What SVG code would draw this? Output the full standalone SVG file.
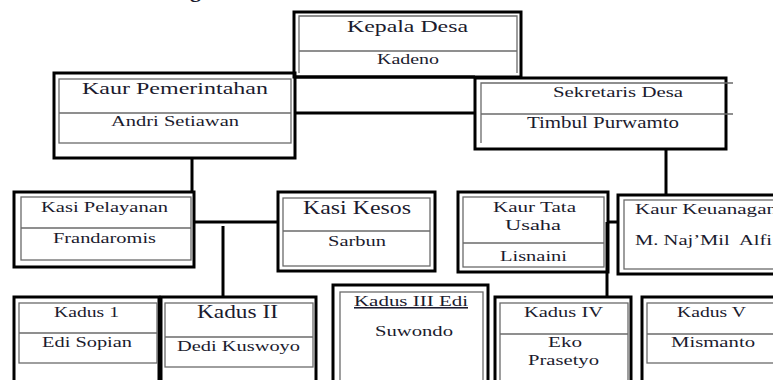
<svg xmlns="http://www.w3.org/2000/svg" width="773" height="380" viewBox="0 0 773 380">
<style>
.outer{fill:none;stroke:#000;stroke-width:3}
.inner{fill:none;stroke:#6a6a6a;stroke-width:1.3}
.conn{fill:none;stroke:#000;stroke-width:3}
.t{font-family:"Liberation Serif","Times New Roman",serif;fill:#1b1b2e;font-size:15.5px}
.b{font-size:18px}
.u{text-decoration:underline}
</style>
<rect width="773" height="380" fill="#fff"/>
<text class="t" x="190" y="-3" style="font-weight:bold;font-size:22px">g</text>
<g id="connectors">
<line class="conn" x1="295" y1="77" x2="475" y2="77"/>
<line class="conn" x1="295" y1="113" x2="475" y2="113"/>
<line class="conn" x1="192" y1="158" x2="192" y2="192"/>
<line class="conn" x1="194" y1="222" x2="278" y2="222"/>
<line class="conn" x1="223" y1="226" x2="223" y2="297"/>
<line class="conn" x1="666" y1="149" x2="666" y2="195"/>
<line class="conn" x1="608" y1="222" x2="618" y2="222"/>
<line class="conn" x1="607" y1="222" x2="607" y2="297"/>
</g>
<g id="kepala-desa">
<rect class="outer" x="294" y="12" width="227" height="65"/>
<polyline class="inner" points="299,73 299,16 517,16 517,73"/>
<line class="inner" x1="299" y1="51" x2="517" y2="51"/>
<text class="t" x="347" y="32" textLength="121" lengthAdjust="spacingAndGlyphs" style="font-size:17.5px">Kepala Desa</text>
<text class="t" x="377" y="64" textLength="62" lengthAdjust="spacingAndGlyphs">Kadeno</text>
</g>
<g id="kaur-pemerintahan">
<rect class="outer" x="54" y="73" width="241" height="85"/>
<rect class="inner" x="59" y="79" width="232" height="64"/>
<line class="inner" x1="59" y1="113" x2="291" y2="113"/>
<text class="t" x="82" y="94" textLength="186" lengthAdjust="spacingAndGlyphs" style="font-size:17.5px">Kaur Pemerintahan</text>
<text class="t" x="111" y="126" textLength="128" lengthAdjust="spacingAndGlyphs">Andri Setiawan</text>
</g>
<g id="sekretaris-desa">
<rect class="outer" x="475" y="78" width="251" height="71"/>
<polyline class="inner" points="481,143 481,83 733,83"/>
<line class="inner" x1="481" y1="114" x2="733" y2="114"/>
<text class="t" x="553" y="97" textLength="130" lengthAdjust="spacingAndGlyphs">Sekretaris Desa</text>
<text class="t" x="527" y="128" textLength="152" lengthAdjust="spacingAndGlyphs" style="font-size:16px">Timbul Purwamto</text>
</g>
<g id="kasi-pelayanan">
<rect class="outer" x="14" y="192" width="180" height="75"/>
<rect class="inner" x="21" y="197" width="170" height="63"/>
<line class="inner" x1="21" y1="228" x2="191" y2="228"/>
<text class="t" x="41" y="212" textLength="127" lengthAdjust="spacingAndGlyphs">Kasi Pelayanan</text>
<text class="t" x="53" y="243" textLength="103" lengthAdjust="spacingAndGlyphs">Frandaromis</text>
</g>
<g id="kasi-kesos">
<rect class="outer" x="278" y="192" width="157" height="79"/>
<rect class="inner" x="283" y="198" width="147" height="68"/>
<line class="inner" x1="283" y1="231" x2="430" y2="231"/>
<text class="t b" x="303" y="214" textLength="108" lengthAdjust="spacingAndGlyphs">Kasi Kesos</text>
<text class="t" x="328" y="246" textLength="58" lengthAdjust="spacingAndGlyphs">Sarbun</text>
</g>
<g id="kaur-tata-usaha">
<rect class="outer" x="458" y="192" width="150" height="80"/>
<rect class="inner" x="463" y="197" width="141" height="70"/>
<line class="inner" x1="463" y1="243" x2="604" y2="243"/>
<text class="t" x="493" y="212" textLength="83" lengthAdjust="spacingAndGlyphs">Kaur Tata</text>
<text class="t" x="505" y="230" textLength="56" lengthAdjust="spacingAndGlyphs">Usaha</text>
<text class="t" x="500" y="261" textLength="67" lengthAdjust="spacingAndGlyphs">Lisnaini</text>
</g>
<g id="kaur-keuangan">
<rect class="outer" x="618" y="195" width="170" height="79"/>
<rect class="inner" x="624" y="200" width="170" height="69"/>
<text class="t" x="635" y="214" textLength="142" lengthAdjust="spacingAndGlyphs">Kaur Keuanagan</text>
<text class="t" x="635" y="245" textLength="137" lengthAdjust="spacingAndGlyphs" style="white-space:pre">M. Naj’Mil  Alfi</text>
</g>
<g id="kadus-1">
<rect class="outer" x="14" y="297" width="145" height="100"/>
<rect class="inner" x="19" y="303" width="138" height="60"/>
<line class="inner" x1="19" y1="333" x2="157" y2="333"/>
<text class="t" x="54" y="317" textLength="65" lengthAdjust="spacingAndGlyphs">Kadus 1</text>
<text class="t" x="42" y="347" textLength="90" lengthAdjust="spacingAndGlyphs">Edi Sopian</text>
</g>
<g id="kadus-2">
<rect class="outer" x="161" y="297" width="155" height="100"/>
<rect class="inner" x="165" y="303" width="148" height="64"/>
<line class="inner" x1="165" y1="337" x2="313" y2="337"/>
<text class="t b" x="197" y="318" textLength="81" lengthAdjust="spacingAndGlyphs">Kadus II</text>
<text class="t" x="177" y="351" textLength="123" lengthAdjust="spacingAndGlyphs">Dedi Kuswoyo</text>
</g>
<g id="kadus-3">
<rect class="outer" x="333" y="285" width="155" height="110"/>
<rect class="inner" x="340" y="292" width="143" height="100"/>
<text class="t u" x="354" y="306" textLength="114" lengthAdjust="spacingAndGlyphs">Kadus III Edi</text>
<text class="t" x="375" y="336" textLength="78" lengthAdjust="spacingAndGlyphs">Suwondo</text>
</g>
<g id="kadus-4">
<rect class="outer" x="495" y="297" width="136" height="100"/>
<rect class="inner" x="500" y="303" width="128" height="90"/>
<line class="inner" x1="500" y1="334" x2="628" y2="334"/>
<text class="t" x="524" y="317" textLength="79" lengthAdjust="spacingAndGlyphs">Kadus IV</text>
<text class="t" x="548" y="347" textLength="34" lengthAdjust="spacingAndGlyphs">Eko</text>
<text class="t" x="528" y="365" textLength="71" lengthAdjust="spacingAndGlyphs">Prasetyo</text>
</g>
<g id="kadus-5">
<rect class="outer" x="642" y="297" width="150" height="100"/>
<rect class="inner" x="647" y="303" width="140" height="60"/>
<line class="inner" x1="647" y1="334" x2="787" y2="334"/>
<text class="t" x="677" y="317" textLength="69" lengthAdjust="spacingAndGlyphs">Kadus V</text>
<text class="t" x="671" y="347" textLength="84" lengthAdjust="spacingAndGlyphs">Mismanto</text>
</g>
</svg>
